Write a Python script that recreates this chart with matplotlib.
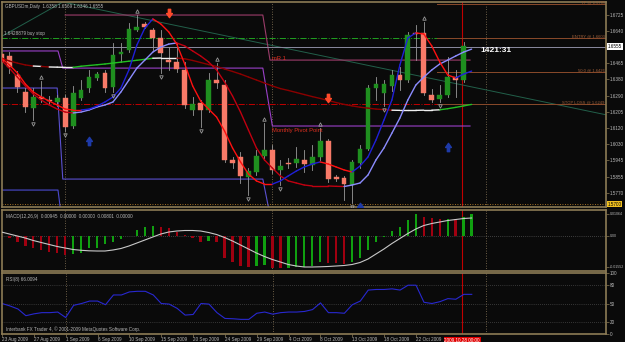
import matplotlib.pyplot as plt
from matplotlib.patches import Rectangle
from matplotlib.path import Path

plt.rcParams['font.family'] = ['Liberation Sans', 'DejaVu Sans']

# GBPUSDm daily bars, 23 Aug 2009 .. 29 Oct 2009 (bar index 0..58)
opens = [1.6516, 1.6505, 1.6403, 1.6312, 1.6226, 1.6285, 1.6269, 1.6258, 1.6279, 1.6129,
         1.6279, 1.6333, 1.6387, 1.6414, 1.6338, 1.6516, 1.6537, 1.6645, 1.6677, 1.6645,
         1.6602, 1.6483, 1.6473, 1.6430, 1.6215, 1.6253, 1.6215, 1.6376, 1.6349, 1.5947,
         1.5963, 1.5855, 1.5882, 1.5968, 1.6001, 1.5893, 1.5931, 1.5931, 1.5947, 1.5920,
         1.5963, 1.6049, 1.5855, 1.5850, 1.5812, 1.5931, 1.6006, 1.6333, 1.6306, 1.6344,
         1.6403, 1.6376, 1.6629, 1.6629, 1.6296, 1.6274, 1.6296, 1.6392, 1.6376]
closes = [1.6473, 1.6445, 1.6338, 1.6231, 1.6285, 1.6274, 1.6263, 1.6279, 1.6124, 1.6306,
          1.6322, 1.6392, 1.6408, 1.6333, 1.6510, 1.6526, 1.6650, 1.6661, 1.6661, 1.6602,
          1.6521, 1.6473, 1.6435, 1.6242, 1.6247, 1.6215, 1.6376, 1.6360, 1.5947, 1.5931,
          1.5861, 1.5887, 1.5968, 1.6001, 1.5893, 1.5914, 1.5925, 1.5952, 1.5925, 1.5963,
          1.6049, 1.5844, 1.5844, 1.5817, 1.5936, 1.6006, 1.6333, 1.6355, 1.6355, 1.6403,
          1.6376, 1.6618, 1.6623, 1.6306, 1.6269, 1.6296, 1.6392, 1.6376, 1.6559]
highs = [1.6537, 1.6526, 1.6424, 1.6333, 1.6333, 1.6371, 1.6290, 1.6296, 1.6296, 1.6344,
         1.6376, 1.6430, 1.6419, 1.6430, 1.6575, 1.6575, 1.6682, 1.6725, 1.6687, 1.6655,
         1.6645, 1.6553, 1.6575, 1.6473, 1.6285, 1.6269, 1.6414, 1.6467, 1.6376, 1.5963,
         1.5990, 1.5903, 1.6001, 1.6145, 1.6027, 1.5947, 1.5957, 1.6017, 1.6001, 1.6027,
         1.6118, 1.6060, 1.5866, 1.5861, 1.5947, 1.6027, 1.6349, 1.6392, 1.6376, 1.6430,
         1.6445, 1.6634, 1.6671, 1.6687, 1.6328, 1.6349, 1.6500, 1.6430, 1.6580]
lows = [1.6451, 1.6414, 1.6312, 1.6204, 1.6161, 1.6258, 1.6247, 1.6236, 1.6102, 1.6118,
        1.6269, 1.6312, 1.6376, 1.6312, 1.6312, 1.6473, 1.6526, 1.6639, 1.6655, 1.6537,
        1.6414, 1.6430, 1.6419, 1.6226, 1.6188, 1.6124, 1.6204, 1.6333, 1.5936, 1.5903,
        1.5823, 1.5758, 1.5866, 1.5947, 1.5877, 1.5812, 1.5903, 1.5909, 1.5882, 1.5893,
        1.5947, 1.5828, 1.5834, 1.5732, 1.5716, 1.5903, 1.6001, 1.6269, 1.6236, 1.6317,
        1.6322, 1.6365, 1.6483, 1.6296, 1.6258, 1.6258, 1.6285, 1.6285, 1.6365]

# moving averages (one value per bar)
fast_ma = [1.6494, 1.6457, 1.6414, 1.6355, 1.6312, 1.6285, 1.6263, 1.6242, 1.6220, 1.6215,
           1.6215, 1.6220, 1.6236, 1.6258, 1.6285, 1.6333, 1.6430, 1.6564, 1.6655, 1.6704,
           1.6677, 1.6634, 1.6569, 1.6462, 1.6344, 1.6263, 1.6220, 1.6177, 1.6102, 1.6011,
           1.5936, 1.5871, 1.5834, 1.5817, 1.5817, 1.5834, 1.5861, 1.5887, 1.5909, 1.5925,
           1.5936, 1.5925, 1.5909, 1.5893, 1.5882, 1.5914, 1.5963, 1.6054, 1.6161, 1.6269,
           1.6457, 1.6602, 1.6629, 1.6623, 1.6559, 1.6473, 1.6403, 1.6387, 1.6408, 1.6424]
mid_ma = [1.6483, 1.6440, 1.6392, 1.6344, 1.6301, 1.6269, 1.6242, 1.6220, 1.6204, 1.6199,
          1.6204, 1.6215, 1.6231, 1.6242, 1.6258, 1.6312, 1.6376, 1.6440, 1.6483, 1.6526,
          1.6553, 1.6569, 1.6575, 1.6559, 1.6532, 1.6505, 1.6473, 1.6430, 1.6365, 1.6290,
          1.6204, 1.6107, 1.6011, 1.5947, 1.5903, 1.5861, 1.5834, 1.5823, 1.5812, 1.5807,
          1.5807, 1.5807, 1.5805, 1.5804, 1.5812, 1.5823, 1.5866, 1.5947, 1.6011, 1.6091,
          1.6172, 1.6269, 1.6349, 1.6392, 1.6430, 1.6462, 1.6483, 1.6505, 1.6526, 1.6542]
slow_ma = [1.6494, 1.6478, 1.6467, 1.6457, 1.6451, 1.6449, 1.6446, 1.6445, 1.6444, 1.6444,
           1.6450, 1.6454, 1.6458, 1.6462, 1.6467, 1.6472, 1.6477, 1.6482, 1.6487, 1.6493,
           1.6494, 1.6494, 1.6494, 1.6490, 1.6481, 1.6470, 1.6459, 1.6449, 1.6435, 1.6422,
           1.6408, 1.6392, 1.6376, 1.6360, 1.6344, 1.6330, 1.6320, 1.6309, 1.6298, 1.6287,
           1.6277, 1.6266, 1.6255, 1.6245, 1.6237, 1.6230, 1.6225, 1.6220, 1.6217, 1.6214,
           1.6213, 1.6213, 1.6213, 1.6214, 1.6214, 1.6216, 1.6222, 1.6229, 1.6237, 1.6245]

# MACD(12,26,9)
macd_hist = [-0.00049, -0.00148, -0.00306, -0.00504, -0.00632, -0.00716, -0.00800, -0.00879, -0.00963, -0.00929,
             -0.00850, -0.00632, -0.00603, -0.00435, -0.00336, -0.00188, -0.00049, 0.00272, 0.00405, 0.00484,
             0.00405, 0.00356, 0.00188, 0.00025, -0.00138, -0.00306, -0.00272, -0.00336, -0.01126, -0.01294,
             -0.01492, -0.01541, -0.01522, -0.01457, -0.01620, -0.01630, -0.01606, -0.01581, -0.01541, -0.01492,
             -0.01294, -0.01373, -0.01383, -0.01408, -0.01294, -0.01126, -0.00716, -0.00336, -0.00059, 0.00222,
             0.00435, 0.00766, 0.01047, 0.00929, 0.00850, 0.00815, 0.00840, 0.00815, 0.00929, 0.01047]
macd_signal = [0.00173, 0.00074, -0.00025, -0.00124, -0.00247, -0.00346, -0.00445, -0.00543, -0.00618, -0.00692,
               -0.00731, -0.00756, -0.00766, -0.00766, -0.00716, -0.00642, -0.00519, -0.00371, -0.00222, -0.00074,
               0.00074, 0.00173, 0.00222, 0.00247, 0.00247, 0.00222, 0.00148, 0.00049, -0.00099, -0.00272,
               -0.00469, -0.00667, -0.00865, -0.01037, -0.01186, -0.01309, -0.01433, -0.01507, -0.01556, -0.01556,
               -0.01546, -0.01531, -0.01507, -0.01482, -0.01433, -0.01334, -0.01161, -0.00914, -0.00667, -0.00395,
               -0.00148, 0.00099, 0.00321, 0.00494, 0.00593, 0.00667, 0.00741, 0.00790, 0.00840, 0.00865]

# RSI(8)
rsi = [50, 46, 41, 30, 33, 35, 35, 36, 27, 47, 50, 54, 54, 48, 64, 64, 69, 70, 70, 64,
       50, 49, 42, 31, 32, 50, 49, 35, 25.5, 25, 24, 24, 34, 36, 32.5, 35, 36, 36, 37, 40,
       51, 35, 35, 34, 48, 54, 72, 73, 73, 74, 72, 80, 80, 52, 50, 53, 58, 57, 65, 65]

# fractals (bar index)
up_fractals = [5, 17, 27, 33, 40, 53]
down_fractals = [4, 8, 14, 20, 25, 31, 35, 44, 48, 55]

# signal arrows: (bar, price)
sell_arrows = [(21, 1.6736), (41, 1.6279)]
buy_arrows = [(11, 1.6049), (56, 1.6017), (45, 1.5694)]

# monthly pivot levels (Aug / Sep / Oct) and month boundaries
pivot_x = [0, 7.1, 7.7, 32.8, 34.0, 58.8]
pivot_p = [1.6532, 1.6532, 1.6440, 1.6440, 1.6129, 1.6129]
r1_x = [8.0, 32.8, 33.7, 58.8]
r1_p = [1.6725, 1.6725, 1.6483, 1.6483]
s1_x = [0, 7.0, 7.7, 32.8, 33.7]
s1_p = [1.6333, 1.6333, 1.5844, 1.5844, 1.5651]
s2_x = [0, 7.1, 7.5]
s2_p = [1.5785, 1.5785, 1.5651]

trend_x = [0.1, 7.7, 76.0]
trend_p = [1.6612, 1.6795, 1.6188]

buy_stop = 1.6602
bid = 1.6555
stop_loss = 1.6247
low_level = 1.5710
levels = [(1.6784, 'TP @ 1.6785'), (1.6602, 'ENTRY @ 1.6603'),
          (1.6419, '50.0 @ 1.6426'), (1.6247, 'STOP LOSS @ 1.6249')]
separators = [8, 34, 60.8]
now_bar = 57.8

price_ticks = [1.6725, 1.6640, 1.6465, 1.6380, 1.6290, 1.6205, 1.6120, 1.6030,
               1.5945, 1.5855, 1.5770]
date_ticks = [0, 4, 8, 12, 16, 20, 24, 28, 32, 36, 40, 44, 48, 52]
date_labels = ['23 Aug 2009', '27 Aug 2009', '1 Sep 2009', '6 Sep 2009', '10 Sep 2009',
               '15 Sep 2009', '20 Sep 2009', '24 Sep 2009', '29 Sep 2009', '4 Oct 2009',
               '8 Oct 2009', '13 Oct 2009', '18 Oct 2009', '22 Oct 2009']

BG = '#0a0a0a'
FRAME = '#8c7b55'
TXT = '#b8b8b8'
FS = 3.3

# thick MT4-style arrow glyphs
UP_ARROW = Path([(-0.28, -1), (0.28, -1), (0.28, 0), (0.7, 0), (0, 1), (-0.7, 0), (-0.28, 0), (-0.28, -1)],
                [Path.MOVETO] + [Path.LINETO] * 6 + [Path.CLOSEPOLY])
DOWN_ARROW = Path([(-0.28, 1), (0.28, 1), (0.28, 0), (0.7, 0), (0, -1), (-0.7, 0), (-0.28, 0), (-0.28, 1)],
                  [Path.MOVETO] + [Path.LINETO] * 6 + [Path.CLOSEPOLY])

fig = plt.figure(figsize=(6.25, 3.42), dpi=100, facecolor=BG)
ax = fig.add_axes([2 / 625, 1 - 207 / 342, 604 / 625, 205 / 342])
axm = fig.add_axes([2 / 625, 1 - 271 / 342, 604 / 625, 61 / 342])
axr = fig.add_axes([2 / 625, 1 - 334 / 342, 604 / 625, 61 / 342])

for a in (ax, axm, axr):
    a.set_facecolor(BG)
    a.set_xlim(0.075, 75.86)
    for s in a.spines.values():
        s.set_color(FRAME)
        s.set_linewidth(1.2)
    a.yaxis.tick_right()
    a.tick_params(axis='y', color=FRAME, labelcolor=TXT, labelsize=FS, length=2, width=0.5, pad=1)
    a.tick_params(axis='x', bottom=False, labelbottom=False)
    for sx in separators:
        a.axvline(sx, color='#8c7a5a', lw=0.6, ls=(0, (1, 2)))
    a.axvline(now_bar, color='#c00000', lw=0.8)

# ---- main price panel
ax.set_ylim(1.5694, 1.6795)
ax.set_yticks(price_ticks)
ax.set_yticklabels(['%.4f' % p for p in price_ticks])

ax.plot(trend_x, trend_p, color='#22604a', lw=0.7)
ax.plot(pivot_x, pivot_p, color='#9a40c8', lw=0.8)
ax.plot(r1_x, r1_p, color='#9c3c6a', lw=0.8)
ax.plot(s1_x, s1_p, color='#5a50d0', lw=0.8)
ax.plot(s2_x, s2_p, color='#4a4ad0', lw=0.8)
ax.axhline(bid, color='#8a8aa0', lw=0.7)
ax.axhline(low_level, color='#d09030', lw=0.6, ls=(0, (1, 2)))
ax.plot([0, 54.7], [buy_stop, buy_stop], color='#20a020', lw=0.7, ls='-.')
ax.plot([0, 54.7], [stop_loss, stop_loss], color='#c00000', lw=0.7, ls='-.')
for p, lab in levels:
    ax.plot([54.7, 76], [p, p], color='#8b4a2b', lw=0.7)
    ax.text(75.7, p + 0.0003, lab, color='#a0603a', fontsize=3.0, ha='right', va='baseline')

# candles
for i in range(len(opens)):
    o, c = opens[i], closes[i]
    ax.plot([i, i], [lows[i], highs[i]], color='#9a9a9a', lw=0.6, zorder=3)
    col = '#1f8f1f' if c >= o else '#f87a68'
    h = abs(c - o)
    if h < 0.0002:
        ax.plot([i - 0.3, i + 0.3], [o, o], color='#9a9a9a', lw=0.7, zorder=4)
    else:
        ax.add_patch(Rectangle((i - 0.3, min(o, c)), 0.6, h, facecolor=col,
                               edgecolor=col, lw=0.3, zorder=4))


def colored(a, vals, up, down, flat=None, tol=0.0, lw=1.0):
    for i in range(len(vals) - 1):
        d = vals[i + 1] - vals[i]
        if flat is not None and abs(d) < tol:
            col = flat
        elif d > 0:
            col = up
        else:
            col = down
        a.plot([i, i + 1], [vals[i], vals[i + 1]], color=col, lw=lw, zorder=5,
               solid_capstyle='round')


colored(ax, slow_ma, '#22c022', '#8b0000', flat='#f0f0f0', tol=0.00025, lw=1.0)
colored(ax, mid_ma, '#8c8cff', '#c00010', lw=1.0)
colored(ax, fast_ma, '#2020d8', '#ff1010', lw=1.0)

for i in up_fractals:
    ax.plot(i, highs[i] + 0.0022, marker='^', ms=2.5, mfc='none', mec='#9a9a9a', mew=0.6, zorder=6)
for i in down_fractals:
    ax.plot(i, lows[i] - 0.0022, marker='v', ms=2.5, mfc='none', mec='#9a9a9a', mew=0.6, zorder=6)
for bx, p in sell_arrows:
    ax.plot(bx, p, marker=DOWN_ARROW, ms=6, color='#ff4a2a', zorder=7)
for bx, p in buy_arrows:
    ax.plot(bx, p, marker=UP_ARROW, ms=6, color='#1e3aa8', zorder=7)

ax.text(34, 1.6490, 'mR 1', color='#e03020', fontsize=4.2, va='center')
ax.text(34, 1.6105, 'Monthly Pivot Point', color='#e03020', fontsize=4.2, va='center')
ax.text(60.1, 1.6532, '1421:31', color='white', fontsize=6, fontweight='bold', va='center')
ax.text(0.005, 0.99, 'GBPUSDm,Daily  1.6358 1.6569 1.6346 1.6555', color=TXT, fontsize=FS,
        transform=ax.transAxes, va='top')
ax.text(0.3, 1.6612, '1.6428879 buy stop', color=TXT, fontsize=FS, va='bottom')

yt = ax.get_yaxis_transform()
ax.text(1.003, bid, '%.4f' % bid, transform=yt, fontsize=FS, color='black', va='center',
        bbox=dict(boxstyle='square,pad=0.15', fc='white', ec='none'), clip_on=False)
ax.text(1.003, low_level, '1.5700', transform=yt, fontsize=FS, color='black', va='center',
        bbox=dict(boxstyle='square,pad=0.15', fc='#f0c020', ec='none'), clip_on=False)

# ---- MACD panel
axm.set_ylim(-0.01754, 0.0126)
axm.set_yticks([0.01064, 0.0, -0.01552])
axm.set_yticklabels(['0.01064', '0.00', '-0.01552'])
axm.tick_params(axis='y', labelsize=2.6)
axm.axhline(0, color='#707070', lw=0.5, ls=(0, (1, 2)))
for i, v in enumerate(macd_hist):
    col = '#10a010' if i > 0 and v > macd_hist[i - 1] else '#a00010'
    axm.bar(i, v, width=0.3, color=col, zorder=3)
axm.plot(range(len(macd_signal)), macd_signal, color='#c8c8c8', lw=0.8, zorder=4)
axm.text(0.006, 0.93, 'MACD(12,26,9)  0.00945  0.00000  0.00000  0.00801  0.00000', color=TXT,
         fontsize=FS, transform=axm.transAxes, va='top')

# ---- RSI panel
axr.set_ylim(0, 100)
axr.set_yticks([100, 80, 50, 20, 0])
axr.set_yticklabels(['100', '80', '50', '20', '0'])
for lv in (20, 50, 80):
    axr.axhline(lv, color='#606060', lw=0.5, ls=(0, (1, 2)))
axr.plot(range(len(rsi)), rsi, color='#2828d0', lw=0.8)
axr.text(0.006, 0.93, 'RSI(8) 66.0094', color=TXT, fontsize=FS, transform=axr.transAxes, va='top')
axr.text(0.006, 0.03, 'Interbank FX Trader 4, \u00a9 2001-2009 MetaQuotes Software Corp.', color=TXT,
         fontsize=FS, transform=axr.transAxes, va='bottom')
axr.tick_params(axis='x', bottom=True, labelbottom=True, color=FRAME, labelcolor=TXT,
                labelsize=FS, length=2, width=0.5, pad=0.5)
axr.set_xticks(date_ticks)
axr.set_xticklabels(date_labels, ha='left')
axr.text(now_bar, -0.07, '2009.10.28 00:00', transform=axr.get_xaxis_transform(), color='white',
         fontsize=FS, ha='center', va='top',
         bbox=dict(boxstyle='square,pad=0.2', fc='#e00000', ec='none'), clip_on=False)

fig.savefig('out.png', dpi=100, facecolor=BG)
